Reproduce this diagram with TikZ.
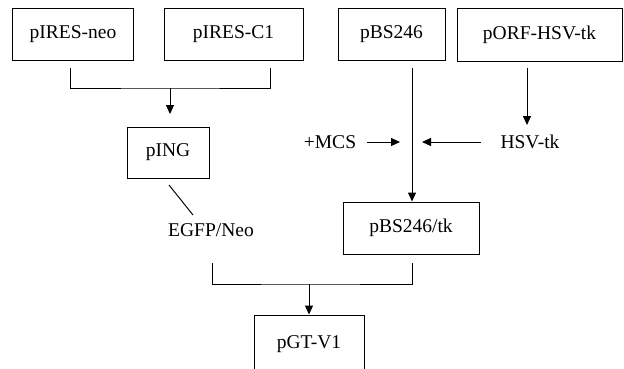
\documentclass[tikz,border=0pt]{standalone}
\usepackage{fontspec}
\setmainfont{Liberation Serif}
\usetikzlibrary{arrows.meta,calc}
\begin{document}
\begin{tikzpicture}[x=1bp,y=-1bp,
  box/.style={draw,line width=1bp,inner sep=0pt,anchor=center,font=\fontsize{19.5bp}{22bp}\selectfont},
  lbl/.style={inner sep=0pt,anchor=center,font=\fontsize{19.5bp}{22bp}\selectfont},
  conn/.style={line width=1bp},
  arr/.style={conn,-{Triangle[length=9bp,width=8bp]}}]
\useasboundingbox (0,0) rectangle (624,368);
\clip (0,0) rectangle (624,368);
% boxes
\node[box,minimum width=120bp,minimum height=52bp] (neo) at (73,34) {pIRES-neo};
\node[box,minimum width=139bp,minimum height=52bp] (c1) at (233.5,34) {pIRES-C1};
\node[box,minimum width=107bp,minimum height=52bp] (bs) at (391.5,34) {pBS246};
\node[box,minimum width=165bp,minimum height=53bp] (orf) at (539.5,34.5) {pORF-HSV-tk};
\node[box,minimum width=82bp,minimum height=51bp] (ing) at (168,152.5) {pING};
\node[box,minimum width=136bp,minimum height=52bp] (bstk) at (411,228) {pBS246/tk};
\node[box,minimum width=110bp,minimum height=58bp] (gt) at (309,344) {pGT-V1};
% labels
\node[lbl] (mcs) at (330,142) {+MCS};
\node[lbl] (hsv) at (530,142) {HSV-tk};
\node[lbl] (egfp) at (211,230) {EGFP/Neo};
% coordinates
\coordinate (neoOut) at (70,68);
\coordinate (c1Out) at (270,68);
\coordinate (j1) at (170,88);
\coordinate (bsOut) at (412,68);
\coordinate (orfOut) at (527,68);
\coordinate (lOut) at (212,263);
\coordinate (rOut) at (412,263);
\coordinate (j2) at (309,284);
\coordinate (d1) at (169,185);
\coordinate (d2) at (193,215);
% connectors
\draw[conn] (neoOut) |- (j1) -| (c1Out);
\draw[arr] (j1) -- (170,114);
\draw[arr] (bsOut) -- (bsOut |- bstk.north);
\draw[arr] (orfOut) -- (527,125);
\draw[arr] (367,142) -- (400,142);
\draw[arr] (481,142) -- (422,142);
\draw[conn] (d1) -- (d2);
\draw[conn] (lOut) |- (j2) -| (rOut);
\draw[arr] (j2) -- (gt.north);
\end{tikzpicture}
\end{document}
